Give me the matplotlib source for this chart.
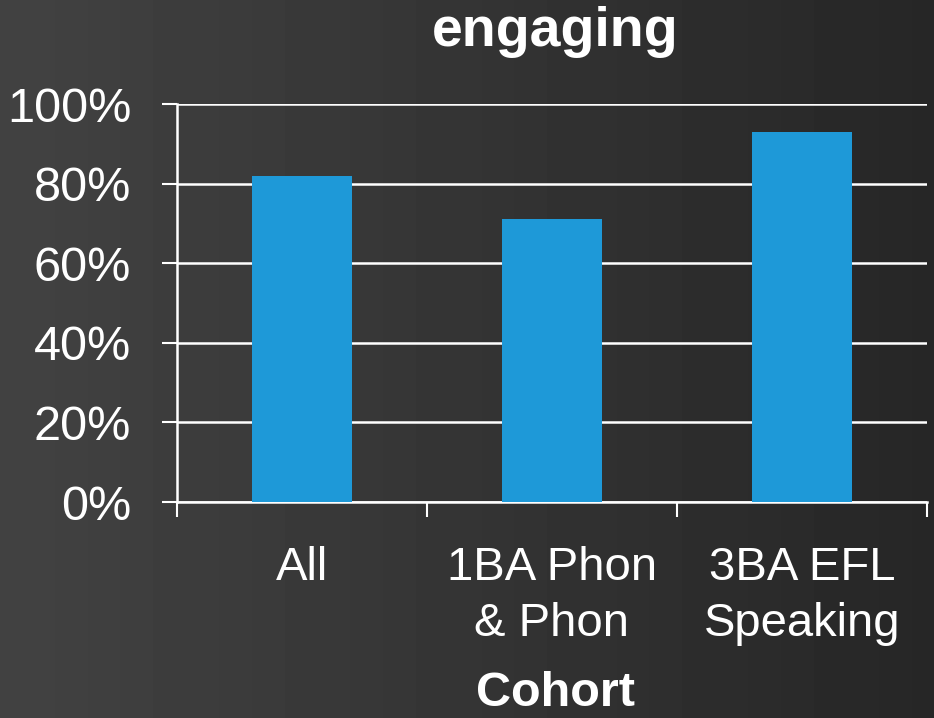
import numpy as np
import matplotlib.pyplot as plt
from matplotlib.ticker import FixedLocator, PercentFormatter

categories = ["All", "1BA Phon\n& Phon", "3BA EFL\nSpeaking"]
values = [82, 71, 93]
yticks = [0, 20, 40, 60, 80, 100]

plt.rcParams['font.family'] = ['Liberation Sans', 'DejaVu Sans']

fig = plt.figure(figsize=(9.34, 7.18), dpi=100)

# dark gradient background, lighter on the left
bg = fig.add_axes([0, 0, 1, 1], zorder=-10)
grad = np.linspace(0.26, 0.15, 256).reshape(1, -1)
bg.imshow(grad, aspect='auto', cmap='gray', vmin=0, vmax=1, extent=[0, 1, 0, 1])
bg.axis('off')

ax = fig.add_axes([177 / 934, 1 - 502 / 718, 750 / 934, 398 / 718])
ax.patch.set_alpha(0)

x = np.arange(len(categories))
ax.bar(x, values, width=0.4, color='#1e99d8', zorder=3)

ax.set_xlim(-0.5, len(categories) - 0.5)
ax.set_ylim(0, 100)
ax.set_yticks(yticks)
ax.yaxis.set_major_formatter(PercentFormatter(decimals=0))
ax.yaxis.grid(True, color='white', linewidth=1.8, zorder=1)

ax.xaxis.set_major_locator(FixedLocator(np.arange(len(categories) + 1) - 0.5))
ax.xaxis.set_major_formatter(plt.NullFormatter())
ax.xaxis.set_minor_locator(FixedLocator(x))
ax.set_xticklabels(categories, minor=True)
for lbl in ax.get_xticklabels(minor=True):
    lbl.set_linespacing(1.35)
ax.tick_params(axis='x', which='major', direction='out', length=11, width=1.5, color='white')
ax.tick_params(axis='x', which='minor', length=0, pad=32, labelsize=34, labelcolor='white')
ax.tick_params(axis='y', direction='out', length=11, width=1.5, color='white',
               labelsize=35, labelcolor='white', pad=22)

for s in ['top', 'right']:
    ax.spines[s].set_visible(False)
for s in ['left', 'bottom']:
    ax.spines[s].set_color('white')
    ax.spines[s].set_linewidth(1.8)

fig.text(555 / 934, 1 - 32 / 718, "engaging", ha='center', va='center',
         fontsize=40, fontweight='bold', color='white')
fig.text(555 / 934, 1 - 694 / 718, "Cohort", ha='center', va='center',
         fontsize=35, fontweight='bold', color='white')

plt.savefig('out.png', dpi=100)
